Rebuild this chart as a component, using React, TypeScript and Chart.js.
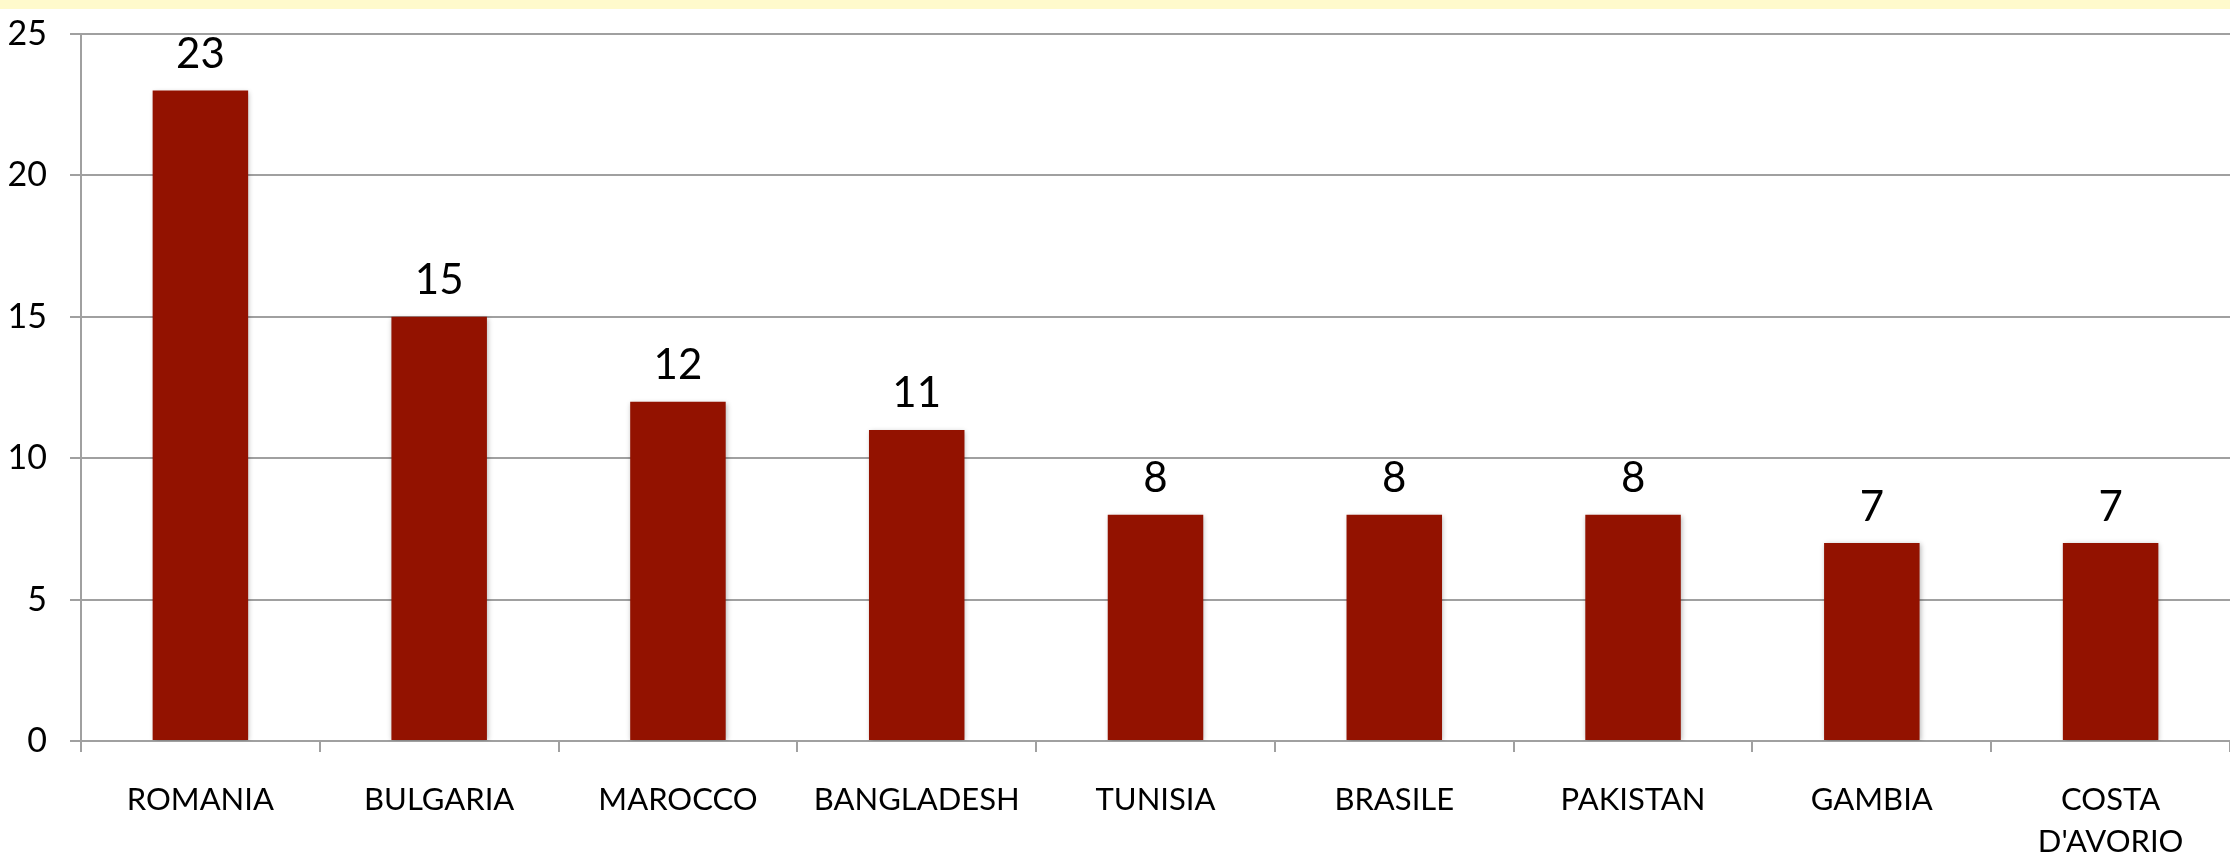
import React, { useEffect, useRef } from "react";
import { Chart, registerables } from "chart.js";

Chart.register(...registerables);

const categories: (string | string[])[] = [
  "ROMANIA",
  "BULGARIA",
  "MAROCCO",
  "BANGLADESH",
  "TUNISIA",
  "BRASILE",
  "PAKISTAN",
  "GAMBIA",
  ["COSTA", "D'AVORIO"],
];
const values: number[] = [23, 15, 12, 11, 8, 8, 8, 7, 7];
const yTicks: number[] = [0, 5, 10, 15, 20, 25];

const FONT = "Lato, 'Open Sans', sans-serif";
const BAR = "#931200";
const GRID = "#a0a0a0";

const valueLabels = {
  id: "valueLabels",
  afterDatasetsDraw(chart: any) {
    const ctx = chart.ctx;
    const meta = chart.getDatasetMeta(0);
    ctx.save();
    ctx.font = `42px ${FONT}`;
    ctx.fillStyle = "#000";
    ctx.textAlign = "center";
    ctx.textBaseline = "middle";
    meta.data.forEach((bar: any, i: number) => {
      ctx.fillText(String(values[i]), bar.x, bar.y - 36);
    });
    ctx.restore();
  },
};

const barShadow = {
  id: "barShadow",
  beforeDatasetsDraw(chart: any) {
    const ctx = chart.ctx;
    ctx.save();
    ctx.shadowColor = "rgba(0,0,0,0.28)";
    ctx.shadowBlur = 5;
    ctx.shadowOffsetX = 1;
    ctx.shadowOffsetY = 1;
  },
  afterDatasetsDraw(chart: any) {
    chart.ctx.restore();
  },
};

export default function App() {
  const ref = useRef<HTMLCanvasElement | null>(null);
  useEffect(() => {
    if (!ref.current) return;
    const chart = new Chart(ref.current, {
      type: "bar",
      data: {
        labels: categories,
        datasets: [
          {
            data: values,
            backgroundColor: BAR,
            borderWidth: 0,
            barPercentage: 0.4,
            categoryPercentage: 1,
          },
        ],
      },
      plugins: [barShadow, valueLabels],
      options: {
        animation: false,
        responsive: false,
        maintainAspectRatio: false,
        layout: { padding: { top: 34, left: 0, right: 0, bottom: 0 } },
        plugins: {
          legend: { display: false },
          tooltip: { enabled: false },
        },
        scales: {
          x: {
            offset: true,
            grid: {
              offset: true,
              drawOnChartArea: false,
              drawTicks: true,
              tickLength: 11,
              color: GRID,
              lineWidth: 2,
            },
            border: { display: true, color: GRID, width: 2 },
            ticks: {
              color: "#000",
              padding: 27,
              maxRotation: 0,
              autoSkip: false,
              font: { family: FONT, size: 31, lineHeight: "42px" },
            },
            afterFit(scale: any) {
              scale.height = 120;
              scale.paddingLeft = 0;
              scale.paddingRight = 0;
            },
          },
          y: {
            min: 0,
            max: 25,
            afterBuildTicks(scale: any) {
              scale.ticks = yTicks.map((v) => ({ value: v }));
            },
            grid: {
              color: GRID,
              lineWidth: 2,
              tickLength: 11,
              drawTicks: true,
            },
            border: { display: true, color: GRID, width: 2 },
            ticks: {
              color: "#000",
              padding: 23,
              font: { family: FONT, size: 34 },
            },
            afterFit(scale: any) {
              scale.width = 81;
              scale.paddingTop = 0;
              scale.paddingBottom = 0;
            },
          },
        },
      },
    });
    return () => chart.destroy();
  }, []);
  return (
    <div
      style={{
        position: "fixed",
        left: 0,
        top: 0,
        width: 2230,
        height: 861,
        background: "#fff",
      }}
    >
      <canvas
        ref={ref}
        width={2230}
        height={861}
        style={{ display: "block", width: 2230, height: 861 }}
      />
      <div
        style={{
          position: "absolute",
          left: 0,
          top: 0,
          width: 2230,
          height: 9,
          background: "#fffacc",
        }}
      />
    </div>
  );
}
